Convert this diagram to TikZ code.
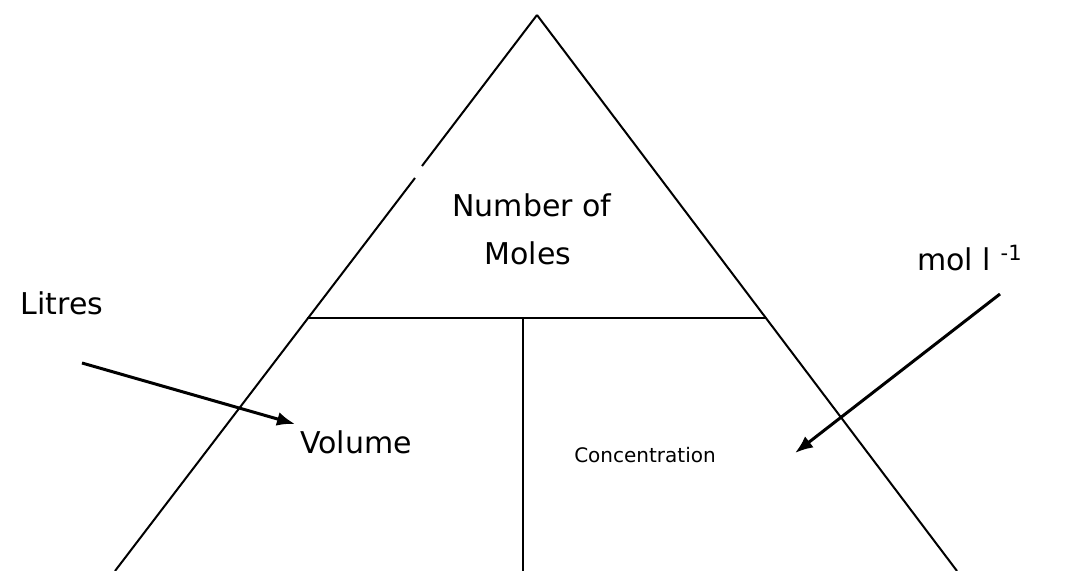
\documentclass[tikz,border=0pt]{standalone}
\usepackage{fontspec}
\setmainfont{DejaVu Sans}
\usetikzlibrary{arrows.meta}
\tikzset{
  edge/.style={line width=1pt},
  pointer/.style={line width=1.5pt, -{Latex[length=9pt,width=7pt]}},
  big/.style={font=\fontsize{15}{18}\selectfont},
  small/.style={font=\fontsize{10}{12}\selectfont}
}
\begin{document}
\begin{tikzpicture}[x=0.5pt, y=-0.5pt]
  \useasboundingbox (0,0) rectangle (1083,571);
  % triangle
  \coordinate (apex) at (537,15);
  \coordinate (bl) at (115,571);
  \coordinate (br) at (957,571);
  \coordinate (gapt) at (422,166);
  \coordinate (gapb) at (415,178);
  \draw[edge] (apex) -- (gapt);
  \draw[edge] (gapb) -- (bl);
  \draw[edge] (apex) -- (br);
  % dividers
  \coordinate (ml) at (307,318);
  \coordinate (mr) at (766,318);
  \coordinate (mm) at (523,318);
  \coordinate (mb) at (523,571);
  \draw[edge] (ml) -- (mr);
  \draw[edge] (mm) -- (mb);
  % labels
  \node[big] (num) at (532,205) {Number of};
  \node[big] (moles) at (528,253) {Moles};
  \node[big] (vol) at (356,442) {Volume};
  \node[small] (conc) at (645,455) {Concentration};
  \node[big] (litres) at (62,303) {Litres};
  \node[big] (unit) at (970,258) {mol l \textsuperscript{-1}};
  % arrows
  \coordinate (ls) at (82,363);
  \coordinate (le) at (295,424);
  \coordinate (rs) at (1000,294);
  \coordinate (re) at (795,453);
  \draw[pointer] (ls) -- (le);
  \draw[pointer] (rs) -- (re);
\end{tikzpicture}
\end{document}
